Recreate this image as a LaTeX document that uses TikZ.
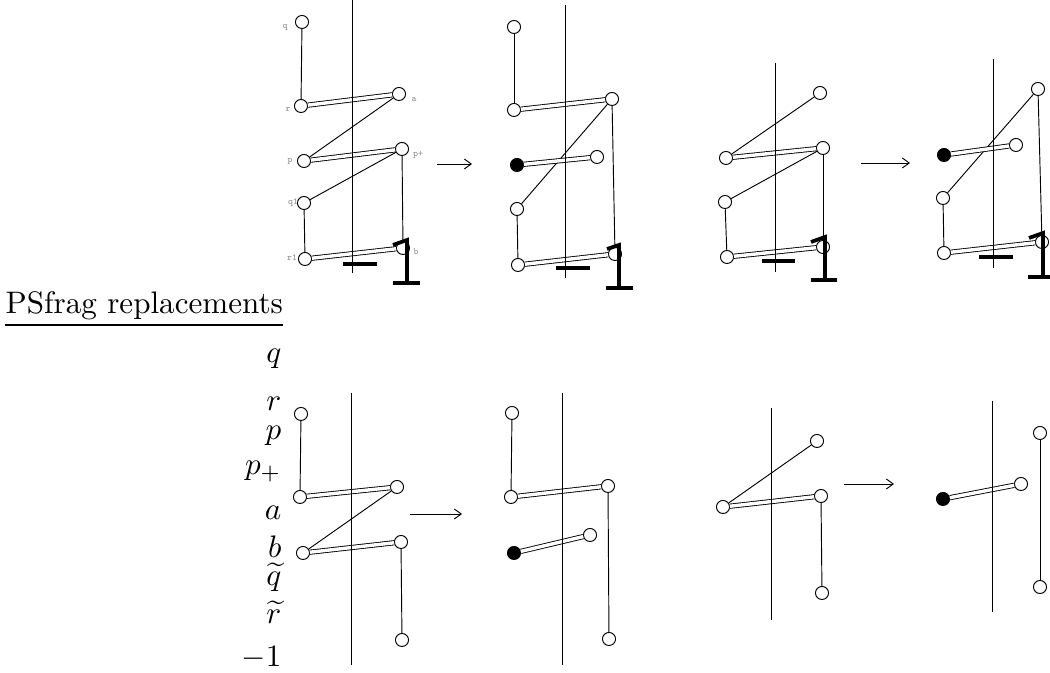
\documentclass[tikz,border=0pt]{standalone}
\usetikzlibrary{arrows.meta}
\begin{document}
\begin{tikzpicture}[x=0.3215pt,y=-0.3215pt,
  v/.style={circle,draw,fill=white,inner sep=0pt,minimum size=4.2pt,line width=0.3pt},
  vf/.style={v,fill=black},
  ln/.style={line width=0.3pt},
  dbl/.style={draw=black,line width=0.28pt,double=white,double distance=1.1pt},
  axisline/.style={line width=0.3pt},
  heavy/.style={line width=1.2pt},
  lbl/.style={font=\ttfamily\fontsize{3}{3}\selectfont,text=black!45,inner sep=0pt},
  arr/.style={-{Straight Barb[length=2.2pt,width=3.2pt]},line width=0.3pt},
  ml/.style={anchor=base east,inner sep=0pt}]
\useasboundingbox (0,0) rectangle (1050,673);

% ---------- panel 1 ----------
\coordinate (A1t) at (352,0); \coordinate (A1s) at (352,273);
\node[v] (A1q) at (302,22) {};
\node[v] (A1r) at (301,106) {};
\node[v] (A1a) at (399,94) {};
\node[v] (A1p) at (304,161) {};
\node[v] (A1pp) at (402,149) {};
\node[v] (A1q1) at (304,203) {};
\node[v] (A1r1) at (305,259) {};
\node[v] (A1b) at (403,248) {};
\draw[ln] (A1q) -- (A1r);
\draw[ln] (A1a) -- (A1p);
\draw[ln] (A1pp) -- (A1q1);
\draw[ln] (A1q1) -- (A1r1);
\draw[ln] (A1pp) -- (A1b);
\draw[dbl] (A1r) -- (A1a);
\draw[dbl] (A1p) -- (A1pp);
\draw[dbl] (A1r1) -- (A1b);
\draw[axisline] (A1t) -- (A1s);
\draw[heavy] (343,264) -- (377,264);
\draw[heavy] (393,245) -- (407,240) -- (407,283);
\draw[heavy] (393,283) -- (420,283);
\node[lbl] (L1) at (285,28) {q};
\node[lbl] (L2) at (288,109) {r};
\node[lbl] (L3) at (414,99) {a};
\node[lbl] (L4) at (290,162) {p};
\node[lbl] (L5) at (418,155) {p+};
\node[lbl] (L6) at (293,203) {q1};
\node[lbl] (L7) at (292,258) {r1};
\node[lbl] (L8) at (416,252) {b};

\coordinate (R1a) at (437,164); \coordinate (R1b) at (472,164);
\draw[arr] (R1a) -- (R1b);

% ---------- panel 2 ----------
\coordinate (A2t) at (565,5); \coordinate (A2s) at (565,278);
\node[v] (A2q) at (514,27) {};
\node[v] (A2r) at (514,110) {};
\node[v] (A2a) at (612,99) {};
\node[vf] (A2f) at (517,165) {};
\node[v] (A2o) at (597,157) {};
\node[v] (A2q1) at (517,209) {};
\node[v] (A2r1) at (518,265) {};
\node[v] (A2b) at (615,254) {};
\draw[ln] (A2q) -- (A2r);
\draw[ln] (A2a) -- (A2q1);
\draw[ln] (A2q1) -- (A2r1);
\draw[ln] (A2a) -- (A2b);
\draw[dbl] (A2r) -- (A2a);
\draw[dbl] (A2f) -- (A2o);
\draw[dbl] (A2r1) -- (A2b);
\draw[axisline] (A2t) -- (A2s);
\draw[heavy] (556,268) -- (590,268);
\draw[heavy] (607,249) -- (619,245) -- (619,288);
\draw[heavy] (606,288) -- (633,288);

% ---------- panel 3 ----------
\coordinate (A3t) at (775,63); \coordinate (A3s) at (775,272);
\node[v] (A3x) at (820,93) {};
\node[v] (A3p) at (726,158) {};
\node[v] (A3pp) at (823,148) {};
\node[v] (A3q1) at (725,202) {};
\node[v] (A3r1) at (727,257) {};
\node[v] (A3b) at (823,247) {};
\draw[ln] (A3x) -- (A3p);
\draw[ln] (A3pp) -- (A3q1);
\draw[ln] (A3q1) -- (A3r1);
\draw[ln] (A3pp) -- (A3b);
\draw[dbl] (A3p) -- (A3pp);
\draw[dbl] (A3r1) -- (A3b);
\draw[axisline] (A3t) -- (A3s);
\draw[heavy] (762,261) -- (795,261);
\draw[heavy] (811,242) -- (825,237) -- (825,280);
\draw[heavy] (811,280) -- (837,280);

\coordinate (R2a) at (861,163); \coordinate (R2b) at (910,163);
\draw[arr] (R2a) -- (R2b);

% ---------- panel 4 ----------
\coordinate (A4t) at (993,59); \coordinate (A4s) at (993,268);
\node[v] (A4x) at (1038,89) {};
\node[vf] (A4f) at (944,155) {};
\node[v] (A4o) at (1016,145) {};
\node[v] (A4q1) at (943,198) {};
\node[v] (A4r1) at (944,253) {};
\node[v] (A4b) at (1042,242) {};
\draw[ln] (A4x) -- (A4q1);
\draw[ln] (A4q1) -- (A4r1);
\draw[ln] (A4x) -- (A4b);
\draw[dbl] (A4f) -- (A4o);
\draw[dbl] (A4r1) -- (A4b);
\draw[axisline] (A4t) -- (A4s);
\draw[heavy] (979,257) -- (1013,257);
\draw[heavy] (1029,238) -- (1043,233) -- (1043,277);
\draw[heavy] (1028,277) -- (1050,277);

% ---------- PSfrag replacements ----------
\node[anchor=base west,inner sep=0pt] (PS) at (5,314) {PSfrag replacements};
\coordinate (U1) at (5,325); \coordinate (U2) at (283,325);
\draw[line width=0.4pt] (U1) -- (U2);
\node[ml] (M1) at (282,363) {$q$};
\node[ml] (M2) at (282,411) {$r$};
\node[ml] (M3) at (282,440) {$p$};
\node[ml] (M4) at (282,475) {$p_+$};
\node[ml] (M5) at (282,520) {$a$};
\node[ml] (M6) at (282,558) {$b$};
\node[ml] (M7) at (282,586) {$\widetilde{q}$};
\node[ml] (M8) at (282,624) {$\widetilde{r}$};
\node[ml] (M9) at (282,667) {$-1$};

% ---------- panel 5 ----------
\coordinate (B1t) at (351,393); \coordinate (B1s) at (351,665);
\node[v] (B1q) at (301,414) {};
\node[v] (B1r) at (300,497) {};
\node[v] (B1a) at (397,487) {};
\node[v] (B1p) at (303,553) {};
\node[v] (B1pp) at (401,542) {};
\node[v] (B1z) at (402,640) {};
\draw[ln] (B1q) -- (B1r);
\draw[ln] (B1a) -- (B1p);
\draw[ln] (B1pp) -- (B1z);
\draw[dbl] (B1r) -- (B1a);
\draw[dbl] (B1p) -- (B1pp);
\draw[axisline] (B1t) -- (B1s);

\coordinate (R3a) at (410,514); \coordinate (R3b) at (462,514);
\draw[arr] (R3a) -- (R3b);

% ---------- panel 6 ----------
\coordinate (B2t) at (562,393); \coordinate (B2s) at (562,665);
\node[v] (B2q) at (512,413) {};
\node[v] (B2r) at (511,497) {};
\node[v] (B2a) at (608,486) {};
\node[vf] (B2f) at (514,553) {};
\node[v] (B2o) at (590,535) {};
\node[v] (B2z) at (609,639) {};
\draw[ln] (B2q) -- (B2r);
\draw[ln] (B2a) -- (B2z);
\draw[dbl] (B2r) -- (B2a);
\draw[dbl] (B2f) -- (B2o);
\draw[axisline] (B2t) -- (B2s);

% ---------- panel 7 ----------
\coordinate (B3t) at (771,408); \coordinate (B3s) at (771,620);
\node[v] (B3x) at (817,441) {};
\node[v] (B3l) at (723,507) {};
\node[v] (B3m) at (821,496) {};
\node[v] (B3z) at (822,593) {};
\draw[ln] (B3x) -- (B3l);
\draw[ln] (B3m) -- (B3z);
\draw[dbl] (B3l) -- (B3m);
\draw[axisline] (B3t) -- (B3s);

\coordinate (R4a) at (844,484); \coordinate (R4b) at (894,484);
\draw[arr] (R4a) -- (R4b);

% ---------- panel 8 ----------
\coordinate (B4t) at (992,401); \coordinate (B4s) at (992,612);
\node[vf] (B4f) at (943,499) {};
\node[v] (B4o) at (1021,484) {};
\node[v] (B4x) at (1040,433) {};
\node[v] (B4z) at (1040,587) {};
\draw[dbl] (B4f) -- (B4o);
\draw[ln] (B4x) -- (B4z);
\draw[axisline] (B4t) -- (B4s);
\end{tikzpicture}
\end{document}
